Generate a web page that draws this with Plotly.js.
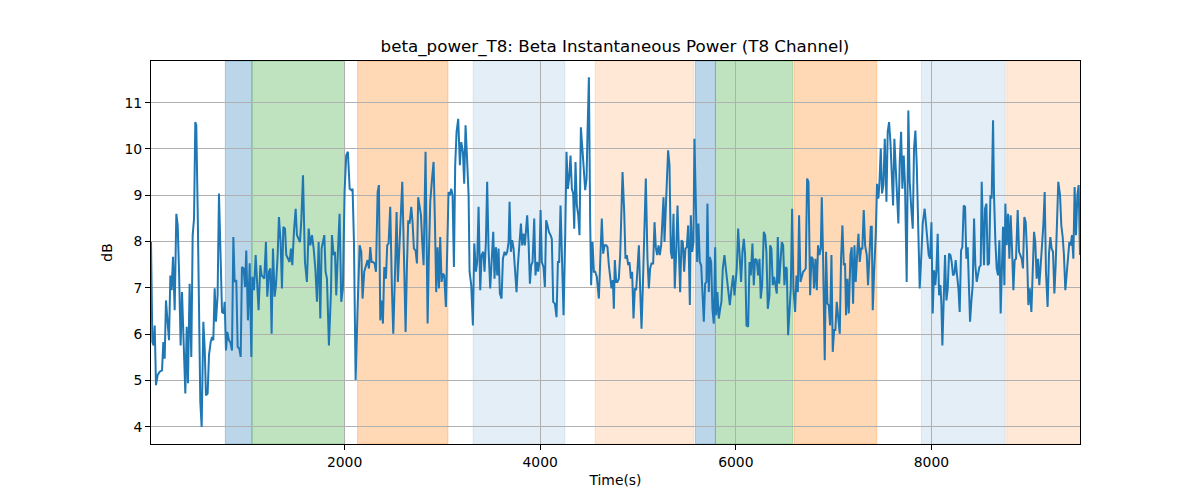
<!DOCTYPE html>
<html>
<head>
<meta charset="utf-8">
<script src="https://cdn.plot.ly/plotly-3.0.1.min.js"></script>
<style>html,body{margin:0;padding:0;background:#fff;}#chart{width:1200px;height:500px;}</style>
</head>
<body>
<div id="chart"></div>
<script>
const chartTitle = "beta_power_T8: Beta Instantaneous Power (T8 Channel)";
const xLabel = "Time(s)";
const yLabel = "dB";
const xTicks = [2000, 4000, 6000, 8000];
const yTicks = [4, 5, 6, 7, 8, 9, 10, 11];

const timeSec = [
21,35,48,59,72,89,110,134,147,161,174,191,205,219,232,246,263,280,294,307,324,338,355,372,386,399,416,433,447,461,474,484,498,512,525,539,556,570,583,600,614,631,645,658,672,685,702,716,733,747,764,774,788,801,818,832,849,863,876,893,907,924,938,951,968,982,995,1012,1030,1047,1057,1074,1091,1108,1121,1139,1152,1166,1179,1196,1210,1227,1241,1254,1268,1285,1299,1316,1329,1346,1360,1374,1391,1404,1421,1438,1452,1466,1483,1500,1513,1530,1544,1558,1575,
1595,1615,1633,1650,1667,1684,1701,1718,1735,1752,1765,1779,1793,1806,1820,1840,1861,1871,1888,1902,1915,1932,1949,1966,1983,2000,2017,2034,2052,2069,2082,2096,2113,2133,2154,2171,2184,2201,2218,2235,2249,2263,2276,2290,2307,2321,2338,2351,2365,2379,2392,2406,2423,2436,2450,2467,2484,2498,2515,2532,2545,2559,2573,2590,2607,2624,2637,2651,2665,2682,2695,2709,2726,2740,2753,2767,2781,2794,2808,2828,2849,2862,2876,2896,2910,2924,2937,2951,2965,2978,2992,3005,3019,3036,3050,3063,3077,3091,3104,3118,3131,3145,3162,
3179,3193,3210,3223,3237,3251,3268,3278,3295,3312,3326,3343,3356,3370,3387,3401,3418,3431,3445,3458,3472,3489,3506,3520,3533,3547,3561,3574,3588,3605,3619,3636,3649,3663,3677,3687,3700,3714,3728,3745,3758,3772,3786,3803,3816,3830,3843,3857,3867,3881,3895,3908,3922,3939,3952,3966,3980,3993,4004,4017,4034,4048,4061,4075,4089,4106,4119,4133,4150,4167,4181,4194,4208,4222,4239,4256,4269,4283,4297,4310,4324,4337,4348,4361,4375,4389,4402,4416,4429,4443,4460,4474,4484,4498,4511,4521,4535,4549,4562,4579,4600,4617,4630,4644,4658,4675,4688,4702,4716,4729,4743,4753,
4763,4777,4790,4804,4818,4842,4859,4872,4886,4900,4913,4927,4940,4954,4968,4981,4995,5009,5022,5036,5049,5063,5080,5097,5111,5124,5138,5155,5169,5182,5196,5210,5223,5237,5250,5261,5271,5284,5295,5308,5322,5336,5349,5363,5376,5390,5404,5417,5431,5445,5458,5472,5485,5499,5513,5530,5540,5554,5567,5577,5591,5605,5618,5632,5646,5659,5673,5686,5700,5710,5724,5734,5748,5761,5775,5789,5799,5812,5826,5840,5853,5867,5884,5898,5911,5925,5939,5956,5973,5986,6000,6010,6024,6041,6054,6068,6082,6095,6109,6126,6140,6153,6170,6184,6197,6214,6228,6242,6255,6269,6286,6300,6313,6327,6344,
6351,6364,6378,6392,6405,6419,6429,6443,6456,6470,6484,6497,6511,6521,6535,6548,6562,6576,6589,6606,6620,6634,6647,6661,6674,6688,6702,6715,6729,6743,6760,6773,6787,6800,6814,6828,6841,6855,6869,6879,6892,6909,6923,6937,6950,6964,6978,6991,7005,7018,7032,7046,7063,7076,7090,7104,7117,7127,7141,7155,7172,7185,7199,7213,7226,7240,7254,7267,7281,7294,7308,7322,7339,7352,7366,7380,7390,7400,7414,7431,7444,7458,7468,7482,7495,7509,7523,7540,7553,7567,7581,7594,7608,7621,7635,7649,7662,7676,7690,7703,7717,7730,7747,7764,7778,7792,7809,7822,7836,7850,7867,7880,7897,7911,
7931,7945,7959,7972,7986,8000,8013,8027,8040,8051,8064,8078,8092,8102,8112,8126,8139,8153,8167,8180,8194,8207,8221,8235,8248,8262,8276,8289,8303,8316,8330,8344,8357,8371,8385,8395,8408,8422,8436,8449,8463,8477,8490,8504,8514,8528,8538,8548,8562,8575,8589,8603,8616,8630,8640,8654,8667,8681,8695,8708,8718,8732,8746,8756,8769,8783,8797,8810,8824,8838,8851,8865,8882,8896,8909,8923,8936,8950,8964,8977,8991,9005,9022,9035,9049,9062,9076,9090,9103,9117,9131,9144,9158,9171,9188,9202,9216,9229,9243,9257,9270,9284,9297,9315,9328,9342,9355,9369,9383,9396,9410,9424,9437,9451,9464,9478,9492,9505,9519
];

const powerDb = [
7.99,5.83,5.76,6.19,4.90,5.12,5.19,5.22,5.83,5.47,6.73,6.34,5.87,7.27,6.95,7.67,6.52,8.60,8.35,7.42,5.76,6.91,5.83,4.72,6.16,4.94,7.09,5.51,8.14,8.50,10.58,10.51,8.71,6.27,4.54,4.00,6.27,5.69,4.68,4.72,5.55,5.83,5.94,5.87,6.99,6.27,6.84,9.04,7.27,6.48,6.45,6.70,5.65,6.05,5.87,5.83,5.65,8.10,7.13,7.17,5.73,5.69,5.51,7.45,7.42,7.02,7.81,6.30,7.53,5.51,7.24,6.95,7.71,7.13,6.52,7.49,7.27,7.24,7.20,7.99,6.81,7.35,7.42,6.01,7.85,6.81,7.06,7.71,8.53,7.99,6.99,8.32,8.28,7.71,7.63,7.56,7.85,7.49,8.24,8.71,8.14,8.06,7.99,8.46,9.43,
7.56,7.13,8.28,7.92,8.14,7.85,7.42,6.70,7.99,6.34,7.85,7.99,8.14,7.35,7.20,5.76,6.91,8.14,7.71,7.78,6.84,7.78,8.60,6.70,6.99,9.07,9.86,9.94,9.14,9.11,9.14,7.99,5.01,6.55,7.92,7.78,6.77,7.35,7.49,7.60,7.42,7.88,7.56,7.56,7.53,7.35,9.07,9.22,6.30,6.73,6.23,7.45,7.20,7.92,7.96,8.75,6.99,6.01,7.27,8.64,7.13,7.78,8.78,9.29,7.71,6.05,7.42,8.46,8.39,8.75,8.42,7.85,7.81,7.53,8.96,8.71,8.57,7.99,7.49,9.94,6.23,7.71,8.86,9.40,9.72,8.42,6.91,7.88,6.99,8.10,7.13,7.31,7.27,6.59,7.85,9.07,9.00,9.14,9.00,7.45,9.65,10.37,10.65,
9.65,10.15,9.94,9.25,10.51,9.86,9.00,7.35,7.06,6.19,7.96,7.35,7.56,8.75,6.95,7.71,7.78,7.35,7.99,9.29,7.85,6.99,7.63,8.21,7.20,7.88,7.27,7.85,6.88,6.77,7.63,7.78,7.71,7.78,7.99,8.86,7.78,8.03,7.85,7.35,6.91,7.49,7.99,8.39,7.92,8.17,7.92,8.24,8.57,7.99,7.09,7.49,7.56,8.50,7.27,7.56,7.35,7.60,8.68,7.56,7.45,7.02,8.46,8.35,8.21,8.14,8.06,6.70,6.66,6.37,7.56,7.56,8.78,7.71,6.41,8.14,9.94,9.14,9.40,9.86,9.14,9.04,8.28,9.72,8.78,8.57,8.14,10.47,10.15,9.65,9.11,9.36,10.37,11.55,8.42,7.06,7.99,7.35,7.35,7.24,6.77,7.99,8.50,7.74,7.92,7.92,7.88,7.49,7.20,6.99,7.17,6.55,
7.60,7.13,7.13,7.20,7.71,9.50,8.64,7.63,7.71,7.49,7.56,7.20,7.35,6.34,6.99,6.95,7.42,7.92,6.99,6.12,6.99,7.99,9.36,7.63,6.99,7.42,7.53,7.53,8.42,7.88,7.71,7.92,7.71,7.92,8.71,8.96,7.99,8.93,9.29,9.97,9.65,7.78,7.63,8.60,6.99,7.74,8.78,7.85,6.91,8.03,7.99,7.35,7.85,7.88,8.35,6.63,8.57,7.78,7.99,10.22,8.57,7.56,8.39,7.56,7.49,6.99,6.27,7.09,7.13,8.82,6.91,7.67,7.56,6.55,6.23,7.88,6.41,6.91,6.34,6.55,6.70,7.42,7.71,7.42,7.13,6.84,6.63,6.99,7.27,6.84,7.13,7.42,8.28,7.56,7.13,7.78,8.06,7.71,6.19,6.16,7.56,7.27,7.96,7.06,7.63,7.60,7.27,7.63,6.77,7.06,8.21,8.14,7.78,6.55,6.84,
7.92,7.85,7.06,7.24,7.06,6.88,8.10,7.09,7.53,7.99,7.92,7.06,7.45,7.42,5.98,6.45,6.99,8.71,6.99,6.48,7.27,6.91,8.57,7.13,7.24,7.35,7.38,7.42,9.36,9.29,6.84,7.67,7.63,6.99,7.63,6.95,7.92,7.71,7.85,8.96,7.71,5.44,7.78,6.66,6.63,6.19,7.71,5.62,6.09,6.09,6.70,6.34,6.01,7.63,8.35,7.49,7.53,6.41,7.20,6.45,7.71,7.88,6.66,7.92,7.13,7.71,8.17,7.56,7.85,7.85,8.68,7.92,7.71,7.06,7.85,8.32,8.32,6.52,7.35,8.14,9.25,8.93,9.25,10.01,9.04,9.22,10.22,8.86,10.37,10.58,10.15,9.47,8.78,10.22,9.58,9.00,8.39,9.72,10.37,9.14,9.86,9.22,7.13,10.83,9.29,8.78,8.28,10.01,10.40,9.65,8.21,6.99,7.71,8.39,
8.71,8.35,7.85,7.71,7.63,8.42,6.45,7.38,7.06,7.38,8.17,6.84,7.06,6.63,5.76,6.99,7.71,6.73,6.99,7.74,7.71,7.56,7.27,7.31,7.60,7.27,6.99,6.48,7.81,7.88,8.78,8.75,7.63,7.88,6.99,6.27,6.70,7.06,8.50,7.49,7.13,7.31,7.45,7.49,9.29,8.14,7.49,8.71,8.82,7.49,7.53,9.00,8.93,10.62,9.00,7.99,7.42,7.27,8.03,6.45,7.27,8.32,7.06,8.82,7.92,8.60,7.63,8.57,7.85,6.95,7.60,7.63,8.68,7.78,7.71,7.63,7.42,8.53,8.42,7.78,6.63,6.99,6.48,7.56,8.21,7.99,7.20,7.63,7.06,7.49,7.85,8.35,9.07,7.35,6.59,7.74,8.10,7.85,7.78,6.88,7.49,8.57,9.29,9.00,8.35,8.10,7.71,6.95,7.35,7.71,7.99,7.92,8.14,7.63,9.18,8.14,9.00,9.22,7.71
];

// shaded phases: start, end, kind
const spanStart = [781, 1053, 2133, 3315, 4562, 5587, 5792, 6596, 7897, 8770];
const spanEnd   = [1053, 2000, 3057, 4252, 5571, 5792, 6582, 7441, 8755, 9530];
const spanKind  = ["blue", "green", "orange", "lightblue", "lightorange", "blue", "green", "orange", "lightblue", "lightorange"];

const xRange = [21, 9519];
const yRange = [3.63, 11.9];

const kindColor = {
  blue: "rgba(31,119,180,0.3)",
  green: "rgba(44,160,44,0.3)",
  orange: "rgba(255,127,14,0.3)",
  lightblue: "rgba(31,119,180,0.12)",
  lightorange: "rgba(255,127,14,0.17)"
};

const shapes = spanStart.map((s, i) => ({
  type: "rect", xref: "x", yref: "paper",
  x0: s, x1: spanEnd[i], y0: 0, y1: 1,
  fillcolor: kindColor[spanKind[i]],
  line: {width: 1, color: kindColor[spanKind[i]]},
  layer: "below"
}));

const font = "DejaVu Sans, sans-serif";

const trace = {
  x: timeSec, y: powerDb, type: "scatter", mode: "lines",
  line: {color: "#1f77b4", width: 2},
  hoverinfo: "skip"
};

const axisCommon = {
  showline: true, mirror: true, linecolor: "#000", linewidth: 1,
  ticks: "outside", ticklen: 5, tickwidth: 1, tickcolor: "#000",
  showgrid: true, gridcolor: "#b0b0b0", gridwidth: 1,
  zeroline: false,
  tickfont: {family: font, size: 13.9, color: "#000"}
};

const layout = {
  width: 1200, height: 500,
  paper_bgcolor: "#fff", plot_bgcolor: "rgba(0,0,0,0)",
  margin: {l: 151, r: 120, t: 61, b: 56},
  showlegend: false,
  title: {text: chartTitle, font: {family: font, size: 16.7, color: "#000"},
          x: 0.5125, xanchor: "center", y: 0.908, yref: "container", yanchor: "middle"},
  xaxis: Object.assign({}, axisCommon, {
    range: xRange, tickvals: xTicks, ticktext: xTicks.map(String),
    title: {text: xLabel, font: {family: font, size: 13.9, color: "#000"}, standoff: 6}
  }),
  yaxis: Object.assign({}, axisCommon, {
    range: yRange, tickvals: yTicks, ticktext: yTicks.map(String),
    title: {text: yLabel, font: {family: font, size: 13.9, color: "#000"}, standoff: 8}
  }),
  shapes: shapes
};

Plotly.newPlot("chart", [trace], layout, {displayModeBar: false, staticPlot: true});
</script>
</body>
</html>
